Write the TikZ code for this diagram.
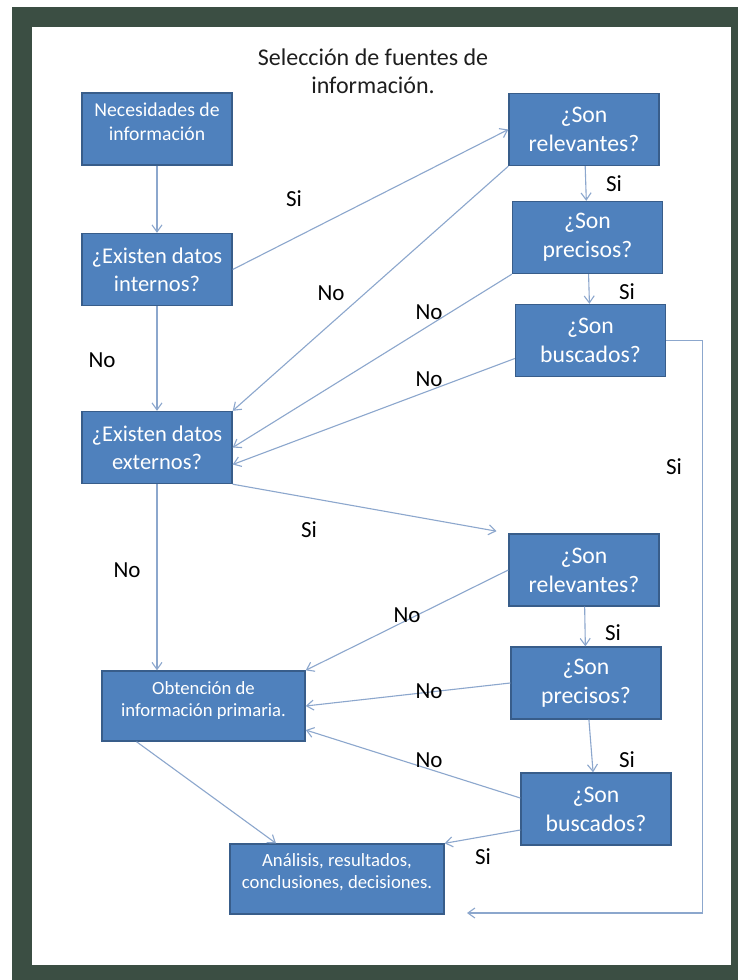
\documentclass[tikz,border=0pt]{standalone}
\usepackage{fontspec}
\setmainfont{Carlito}
\usetikzlibrary{arrows.meta}
\usepackage{xcolor}

\definecolor{framegreen}{RGB}{59,78,67}
\definecolor{boxblue}{RGB}{79,129,189}
\definecolor{boxedge}{RGB}{56,93,138}
\definecolor{linkblue}{RGB}{140,167,205}
\definecolor{titlegray}{RGB}{30,30,30}

\begin{document}
\begin{tikzpicture}[
  x=1pt, y=-1pt,
  qbox/.style={rectangle, draw=boxedge, line width=1.4pt, fill=boxblue, text=white,
               minimum width=150pt, minimum height=72pt, align=center,
               font=\fontsize{23.7}{29}\selectfont},
  ibox/.style={qbox, font=\fontsize{22.5}{28}\selectfont},
  sbox/.style={qbox, font=\fontsize{18.7}{22}\selectfont},
  lbl/.style={font=\fontsize{23}{28}\selectfont, text=black},
  arrow/.style={-{Straight Barb[length=7pt, width=10pt]}, draw=linkblue, line width=1.1pt},
]
  \useasboundingbox (0,0) rectangle (738,980);
  \fill[framegreen] (12,7) rectangle (738,980);
  \fill[white] (32,27) rectangle (731,965);

  \node[font=\fontsize{24}{28}\selectfont, text=titlegray, align=center] (title) at (373,71)
    {Selección de fuentes de\\información.};

  \node[sbox, font=\fontsize{19.7}{24}\selectfont, text depth=15pt] (nec) at (157,129) {Necesidades de\\información};
  \node[ibox] (intn) at (157,269.5) {¿Existen datos\\internos?};
  \node[ibox] (extn) at (157,447.5) {¿Existen datos\\externos?};
  \node[sbox, minimum width=203pt, minimum height=70pt, text depth=14pt] (obt) at (203.5,706)
    {Obtención de\\información primaria.};
  \node[sbox, minimum width=214pt, minimum height=70pt, text depth=16pt] (ana) at (337,879)
    {Análisis, resultados,\\conclusiones, decisiones.};

  \node[qbox] (rel1) at (584,129.5) {¿Son\\relevantes?};
  \node[qbox] (pre1) at (587.5,237.5) {¿Son\\precisos?};
  \node[qbox] (bus1) at (590.5,340.5) {¿Son\\buscados?};
  \node[qbox] (rel2) at (584,570) {¿Son\\relevantes?};
  \node[qbox] (pre2) at (586,683) {¿Son\\precisos?};
  \node[qbox] (bus2) at (596,809) {¿Son\\buscados?};

  \coordinate (back) at (467,913);

  \draw[arrow] (nec) -- (intn);
  \draw[arrow] (intn.east) -- (rel1.west);
  \draw[arrow] (intn) -- (extn);
  \draw[arrow] (rel1) -- (pre1);
  \draw[arrow] (pre1) -- (bus1);
  \draw[arrow] (rel1.south west) -- (extn.north east);
  \draw[arrow] (pre1.south west) -- (extn.east);
  \draw[arrow] ([yshift=-18pt]bus1.west) -- ([yshift=-17pt]extn.east);
  \draw[arrow] (bus1.east) -- ++(36,0) |- (back);

  \draw[arrow, shorten >=12pt] (extn.south east) -- (rel2.north west);
  \draw[arrow] (extn.south) -- (extn.south |- obt.north);
  \draw[arrow] (rel2) -- (pre2);
  \draw[arrow] (pre2) -- (bus2);
  \draw[arrow] (rel2.west) -- (obt.north east);
  \draw[arrow] (pre2.west) -- (obt.east);
  \draw[arrow] ([yshift=11pt]bus2.west) -- ([yshift=-24pt]obt.east);
  \draw[arrow] ([yshift=-21pt]bus2.west) -- (ana.north east);
  \draw[arrow] ([xshift=-67pt]obt.south) -- ([xshift=-61pt]ana.north);

  \node[lbl] (siint)  at (294,199) {Si};
  \node[lbl] (nointa) at (102,360) {No};
  \node[lbl] (norel1) at (331,293) {No};
  \node[lbl] (nopre1) at (429,312) {No};
  \node[lbl] (nobus1) at (429,379) {No};
  \node[lbl] (sirel1) at (614,184) {Si};
  \node[lbl] (sipre1) at (627,292) {Si};
  \node[lbl] (sibus1) at (674,467) {Si};
  \node[lbl] (siext)  at (309,530) {Si};
  \node[lbl] (noext)  at (127,570) {No};
  \node[lbl] (norel2) at (407,615) {No};
  \node[lbl] (sirel2) at (613,633) {Si};
  \node[lbl] (nopre2) at (429,691) {No};
  \node[lbl] (nobus2) at (429,760) {No};
  \node[lbl] (sipre2) at (627,760) {Si};
  \node[lbl] (sibus2) at (483,857) {Si};
\end{tikzpicture}
\end{document}
